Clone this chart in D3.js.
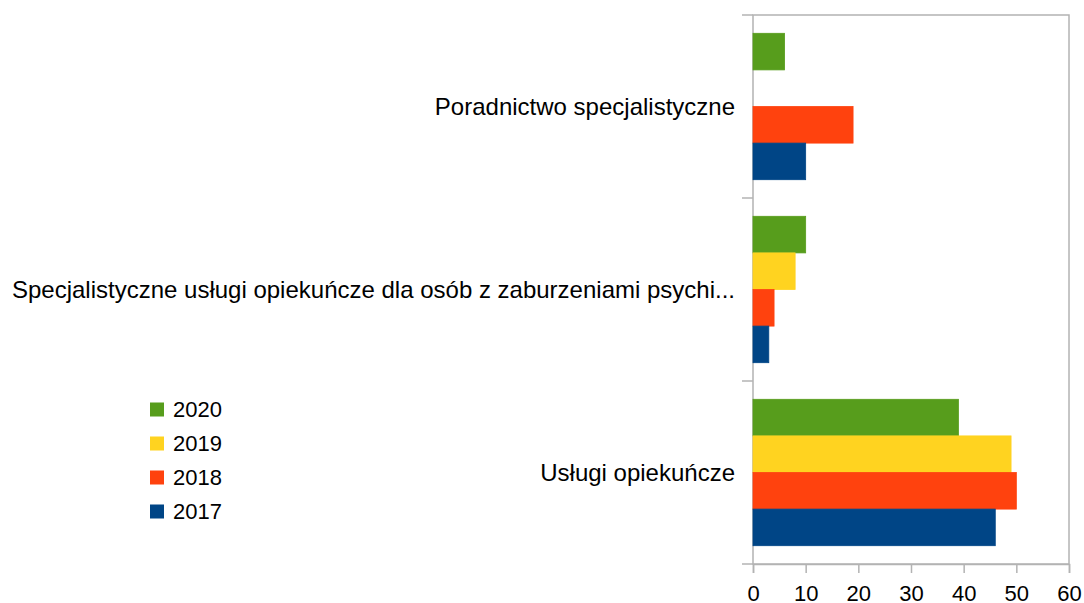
<!DOCTYPE html>
<html>
<head>
<meta charset="utf-8">
<script src="https://cdn.jsdelivr.net/npm/d3@7"></script>
<style>
  body { margin: 0; background: #fff; }
  text { font-family: "Liberation Sans", Arial, sans-serif; }
</style>
</head>
<body>
<div id="chart"></div>
<script>
// dane
const categories = [
  "Poradnictwo specjalistyczne",
  "Specjalistyczne usługi opiekuńcze dla osób z zaburzeniami psychi...",
  "Usługi opiekuńcze"
];
const years = ["2020", "2019", "2018", "2017"];
const values2020 = [6, 10, 39];
const values2019 = [0, 8, 49];
const values2018 = [19, 4, 50];
const values2017 = [10, 3, 46];
const xTicks = [0, 10, 20, 30, 40, 50, 60];

const seriesValues = { "2020": values2020, "2019": values2019, "2018": values2018, "2017": values2017 };
const colors = { "2020": "#579d1c", "2019": "#ffd320", "2018": "#ff420e", "2017": "#004586" };

const width = 1084, height = 603;
const plotLeft = 753, plotRight = 1069, plotTop = 15, plotBottom = 564;

const svg = d3.select("#chart").append("svg")
  .attr("width", width)
  .attr("height", height);

const x = d3.scaleLinear().domain([0, 60]).range([plotLeft, plotRight]);
const y = d3.scaleBand().domain(categories).range([plotTop, plotBottom]).padding(0);
const yInner = d3.scaleBand().domain(years).range([0, y.bandwidth()])
  .paddingInner(0).paddingOuter(0.5);

// ramka wykresu
svg.append("rect")
  .attr("x", plotLeft).attr("y", plotTop)
  .attr("width", plotRight - plotLeft).attr("height", plotBottom - plotTop)
  .attr("fill", "none")
  .attr("stroke", "#b3b3b3")
  .attr("stroke-width", 1.5);

// słupki
const groups = svg.append("g").selectAll("g")
  .data(categories)
  .join("g")
  .attr("transform", d => `translate(0,${y(d)})`);

groups.selectAll("rect")
  .data((c, i) => years.map(yr => ({ year: yr, value: seriesValues[yr][i] })))
  .join("rect")
  .attr("x", x(0))
  .attr("y", d => yInner(d.year))
  .attr("width", d => x(d.value) - x(0))
  .attr("height", yInner.bandwidth())
  .attr("fill", d => colors[d.year])
  .attr("stroke", d => colors[d.year])
  .attr("stroke-width", 0.8);

// oś X
const xAxis = svg.append("g")
  .attr("transform", `translate(0,${plotBottom})`)
  .call(d3.axisBottom(x).tickValues(xTicks).tickSize(9).tickPadding(12));
xAxis.select(".domain").attr("stroke", "#b3b3b3").attr("stroke-width", 1.5);
xAxis.selectAll(".tick line").attr("stroke", "#b3b3b3").attr("stroke-width", 1.5);
xAxis.selectAll(".tick text")
  .attr("font-size", 22)
  .attr("font-family", "Liberation Sans, Arial, sans-serif")
  .attr("fill", "#000");

// oś Y
const yTickPos = [plotTop, y(categories[1]), y(categories[2]), plotBottom];
svg.append("g").selectAll("line")
  .data(yTickPos)
  .join("line")
  .attr("x1", plotLeft - 11).attr("x2", plotLeft)
  .attr("y1", d => d).attr("y2", d => d)
  .attr("stroke", "#b3b3b3")
  .attr("stroke-width", 1.5);

svg.append("g").selectAll("text")
  .data(categories)
  .join("text")
  .attr("x", plotLeft - 18)
  .attr("y", d => y(d) + y.bandwidth() / 2)
  .attr("dy", "0.35em")
  .attr("text-anchor", "end")
  .attr("font-size", 24)
  .attr("fill", "#000")
  .text(d => d);

// legenda
const legend = svg.append("g").selectAll("g")
  .data(years)
  .join("g")
  .attr("transform", (d, i) => `translate(150,${409.5 + i * 34})`);

legend.append("rect")
  .attr("x", 0).attr("y", -7)
  .attr("width", 14).attr("height", 14)
  .attr("fill", d => colors[d]);

legend.append("text")
  .attr("x", 23).attr("y", 0)
  .attr("dy", "0.35em")
  .attr("font-size", 22)
  .attr("fill", "#000")
  .text(d => d);
</script>
</body>
</html>
